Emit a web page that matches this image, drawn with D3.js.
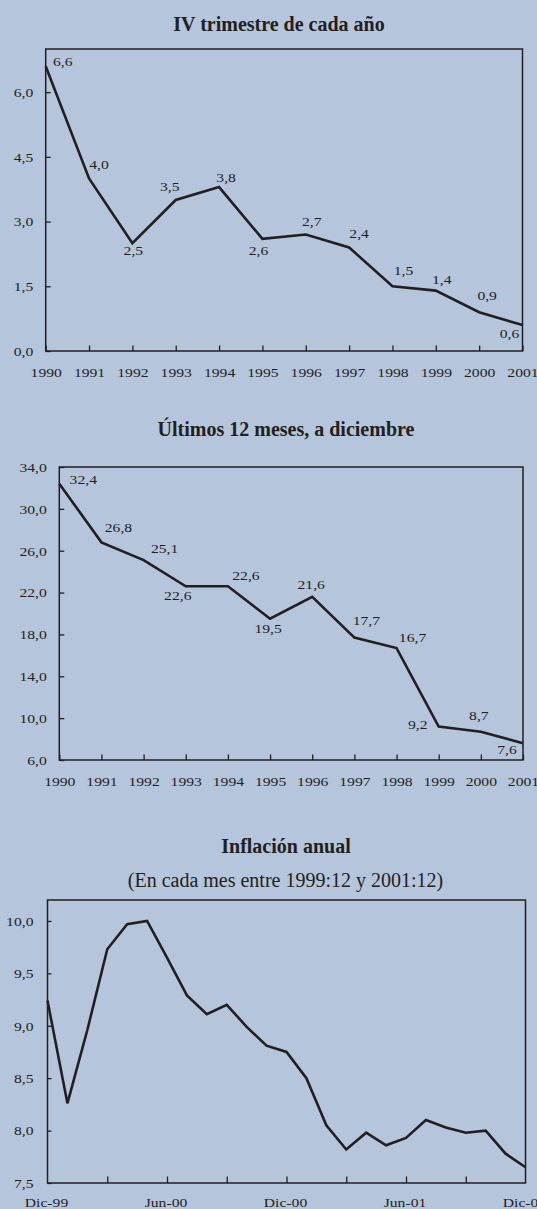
<!DOCTYPE html>
<html>
<head>
<meta charset="utf-8">
<script src="https://cdn.jsdelivr.net/npm/d3@7"></script>
<style>
  body { margin: 0; background: #b5c5dc; }
  svg { display: block; }
  text { font-family: "Liberation Serif", "Times New Roman", serif; fill: #231f20; }
</style>
</head>
<body>
<div id="container"></div>
<script>
// Data
const years = [1990, 1991, 1992, 1993, 1994, 1995, 1996, 1997, 1998, 1999, 2000, 2001];
const trimestreValues = [6.6, 4.0, 2.5, 3.5, 3.8, 2.6, 2.7, 2.4, 1.5, 1.4, 0.9, 0.6];
const trimestreTicks = [0, 1.5, 3.0, 4.5, 6.0];
const diciembreValues = [32.4, 26.8, 25.1, 22.6, 22.6, 19.5, 21.6, 17.7, 16.7, 9.2, 8.7, 7.6];
const diciembreTicks = [6, 10, 14, 18, 22, 26, 30, 34];
const months = ["Dic-99", "Ene-00", "Feb-00", "Mar-00", "Abr-00", "May-00", "Jun-00", "Jul-00",
  "Ago-00", "Sep-00", "Oct-00", "Nov-00", "Dic-00", "Ene-01", "Feb-01", "Mar-01", "Abr-01",
  "May-01", "Jun-01", "Jul-01", "Ago-01", "Sep-01", "Oct-01", "Nov-01", "Dic-01"];
const inflacionValues = [9.24, 8.26, 8.96, 9.73, 9.97, 10.0, 9.65, 9.29, 9.11, 9.20, 8.99, 8.81,
  8.75, 8.50, 8.05, 7.82, 7.98, 7.86, 7.93, 8.10, 8.03, 7.98, 8.00, 7.78, 7.65];
const inflacionTicks = [7.5, 8.0, 8.5, 9.0, 9.5, 10.0];
const monthTickLabels = ["Dic-99", "Jun-00", "Dic-00", "Jun-01", "Dic-01"];

// where each value label sits relative to its point (center dx, baseline dy)
const trimestreLabelPos = [[17, 0], [10, -9], [1, 12], [-6, -9], [7, -5], [-4, 16],
  [6, -9], [10, -9], [11, -11], [6, -7], [8, -12], [-13, 13]];
const diciembreLabelPos = [[24, 0], [17, -10], [21, -7], [-8, 14], [18, -6], [-2, 14],
  [-1, -8], [12, -13], [16, -6], [-21, 2], [-2, -12], [-16, 11]];

const width = 537;
const height = 1209;
const stretch = 1.16; // the labels in the source are a bit wider than Times
const inkColor = "#231f20";

const es = d3.formatLocale({ decimal: ",", thousands: ".", grouping: [3], currency: ["", ""] });
const fmt = es.format(".1f");

const svg = d3.select("#container")
  .append("svg")
  .attr("width", width)
  .attr("height", height);

function title(text, x, y, bold) {
  svg.append("text")
    .attr("x", x)
    .attr("y", y)
    .attr("text-anchor", "middle")
    .attr("font-size", 20)
    .attr("font-weight", bold ? "bold" : "normal")
    .text(text);
}

function stretchTicks(g) {
  g.selectAll(".tick text")
    .attr("font-size", 13.5)
    .attr("font-family", null)
    .attr("fill", inkColor)
    .attr("transform", `scale(${stretch},1)`);
  g.selectAll(".tick line").attr("stroke", inkColor).attr("stroke-width", 1.3);
  g.select(".domain").remove();
}

function frame(x, y) {
  const [x0, x1] = x.range();
  const [y0, y1] = y.range();
  svg.append("rect")
    .attr("x", x0)
    .attr("y", y1)
    .attr("width", x1 - x0)
    .attr("height", y0 - y1)
    .attr("fill", "none")
    .attr("stroke", inkColor)
    .attr("stroke-width", 1.5);
}

function yearChart(values, ticks, labelPos, x, y) {
  svg.append("g")
    .attr("transform", `translate(0,${y.range()[0]})`)
    .call(d3.axisBottom(x).tickValues(years).tickFormat(d3.format("d"))
      .tickSizeInner(-5.5).tickSizeOuter(0).tickPadding(16.7))
    .call(stretchTicks);

  svg.append("g")
    .attr("transform", `translate(${x.range()[0]},0)`)
    .call(d3.axisLeft(y).tickValues(ticks).tickFormat(fmt)
      .tickSizeInner(-5).tickSizeOuter(0).tickPadding(12.5 / stretch))
    .call(stretchTicks);

  frame(x, y);

  svg.append("path")
    .datum(values)
    .attr("fill", "none")
    .attr("stroke", inkColor)
    .attr("stroke-width", 2.6)
    .attr("stroke-linejoin", "miter")
    .attr("d", d3.line().x((d, i) => x(years[i])).y(d => y(d)));

  svg.append("g")
    .selectAll("text")
    .data(values)
    .join("text")
    .attr("text-anchor", "middle")
    .attr("font-size", 13.5)
    .attr("transform", (d, i) =>
      `translate(${x(years[i]) + labelPos[i][0]},${y(d) + labelPos[i][1]}) scale(${stretch},1)`)
    .text(d => fmt(d));
}

// IV trimestre de cada año
title("IV trimestre de cada año", 279, 30.7, true);
const x1 = d3.scaleLinear().domain([1990, 2001]).range([45.7, 522.5]);
const y1 = d3.scaleLinear().domain([0, 7]).range([351, 49]);
yearChart(trimestreValues, trimestreTicks, trimestreLabelPos, x1, y1);

// Últimos 12 meses, a diciembre
title("Últimos 12 meses, a diciembre", 286, 436, true);
const x2 = d3.scaleLinear().domain([1990, 2001]).range([59.3, 523]);
const y2 = d3.scaleLinear().domain([6, 34]).range([760, 467]);
yearChart(diciembreValues, diciembreTicks, diciembreLabelPos, x2, y2);

// Inflación anual
title("Inflación anual", 286, 853.3, true);
title("(En cada mes entre 1999:12 y 2001:12)", 285.5, 886.7, false);
const x3 = d3.scaleLinear().domain([0, months.length - 1]).range([47.5, 525.5]);
const y3 = d3.scaleLinear().domain([7.5, 10.2]).range([1183, 900]);

// inner ticks every three months, labels every six
svg.append("g")
  .attr("transform", `translate(0,${y3.range()[0]})`)
  .call(d3.axisBottom(x3).tickValues(d3.range(3, months.length - 1, 3)).tickFormat("")
    .tickSizeInner(-6.5).tickSizeOuter(0))
  .call(stretchTicks);

svg.append("g")
  .selectAll("text")
  .data(monthTickLabels)
  .join("text")
  .attr("text-anchor", "middle")
  .attr("font-size", 13.5)
  .attr("transform", d =>
    `translate(${x3(months.indexOf(d)) - 1},${y3.range()[0] + 24.4}) scale(${stretch},1)`)
  .text(d => d);

svg.append("g")
  .attr("transform", `translate(${x3.range()[0]},0)`)
  .call(d3.axisLeft(y3).tickValues(inflacionTicks).tickFormat(fmt)
    .tickSizeInner(-4).tickSizeOuter(0).tickPadding(14 / stretch))
  .call(stretchTicks);

frame(x3, y3);

svg.append("path")
  .datum(inflacionValues)
  .attr("fill", "none")
  .attr("stroke", inkColor)
  .attr("stroke-width", 2.6)
  .attr("d", d3.line().x((d, i) => x3(i)).y(d => y3(d)));
</script>
</body>
</html>
